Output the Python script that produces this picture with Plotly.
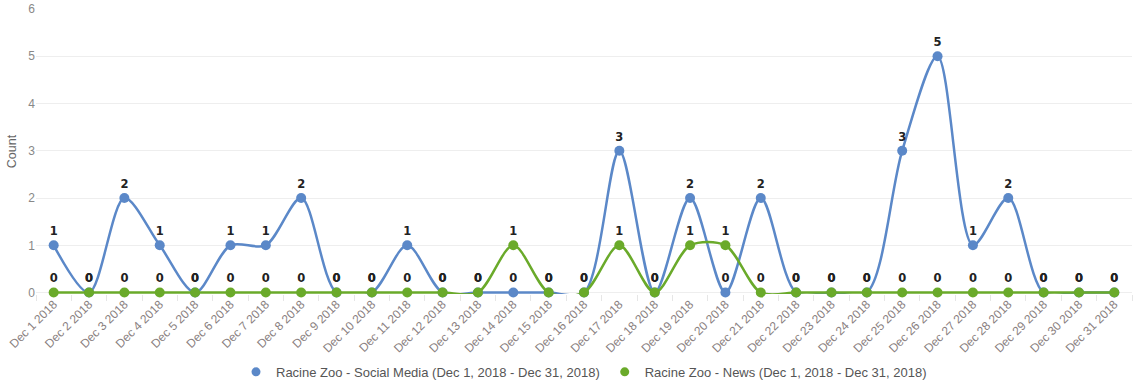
import plotly.graph_objects as go

dates = [f"Dec {d} 2018" for d in range(1, 32)]

social_media = [1, 0, 2, 1, 0, 1, 1, 2, 0, 0, 1, 0, 0, 0, 0, 0,
                3, 0, 2, 0, 2, 0, 0, 0, 3, 5, 1, 2, 0, 0, 0]
news = [0, 0, 0, 0, 0, 0, 0, 0, 0, 0, 0, 0, 0, 1, 0, 0,
        1, 0, 1, 1, 0, 0, 0, 0, 0, 0, 0, 0, 0, 0, 0]

series_names = [
    "Racine Zoo - Social Media (Dec 1, 2018 - Dec 31, 2018)",
    "Racine Zoo - News (Dec 1, 2018 - Dec 31, 2018)",
]
series_colors = ["#5b88c8", "#6aaa2a"]

fig = go.Figure()
for name, values, color in zip(series_names, [social_media, news], series_colors):
    fig.add_trace(go.Scatter(
        x=dates, y=values, name=name, showlegend=False,
        mode="lines+markers+text",
        line=dict(color=color, width=2.5, shape="spline", smoothing=0.85),
        marker=dict(color=color, size=10),
        text=[str(v) for v in values],
        textposition="top center",
        textfont=dict(family="DejaVu Sans", size=11.5, color="#222222", weight="bold"),
        cliponaxis=False,
    ))

# legend entries show a plain circle symbol
for name, color in zip(series_names, series_colors):
    fig.add_trace(go.Scatter(
        x=[None], y=[None], name=name, mode="markers",
        marker=dict(color=color, size=9),
    ))

fig.update_layout(
    width=1133, height=383,
    margin=dict(l=36, r=1, t=9, b=89),
    plot_bgcolor="white", paper_bgcolor="white",
    font=dict(family="Liberation Sans", color="#666666"),
    showlegend=True,
    legend=dict(orientation="h", x=0.5, xanchor="center", y=0.029,
                yanchor="middle", yref="container",
                font=dict(size=13, color="#555555"),
                itemwidth=30, tracegroupgap=0),
    xaxis=dict(
        type="category", range=[-0.5, 30.5], tickangle=-45, automargin=False,
        tickfont=dict(size=12, color="#8a7f7f"),
        showgrid=False, ticks="outside", tickson="boundaries",
        ticklen=6, tickcolor="#e6e6e6", showline=False, zeroline=False,
    ),
    yaxis=dict(
        range=[-0.03, 6], tickvals=[0, 1, 2, 3, 4, 5, 6], automargin=False,
        title=dict(text="Count", font=dict(size=12.5, color="#666666"), standoff=8),
        tickfont=dict(size=12, color="#888888"),
        gridcolor="#eeeeee", zeroline=False, showline=False,
    ),
)

fig.write_html("out.html")
